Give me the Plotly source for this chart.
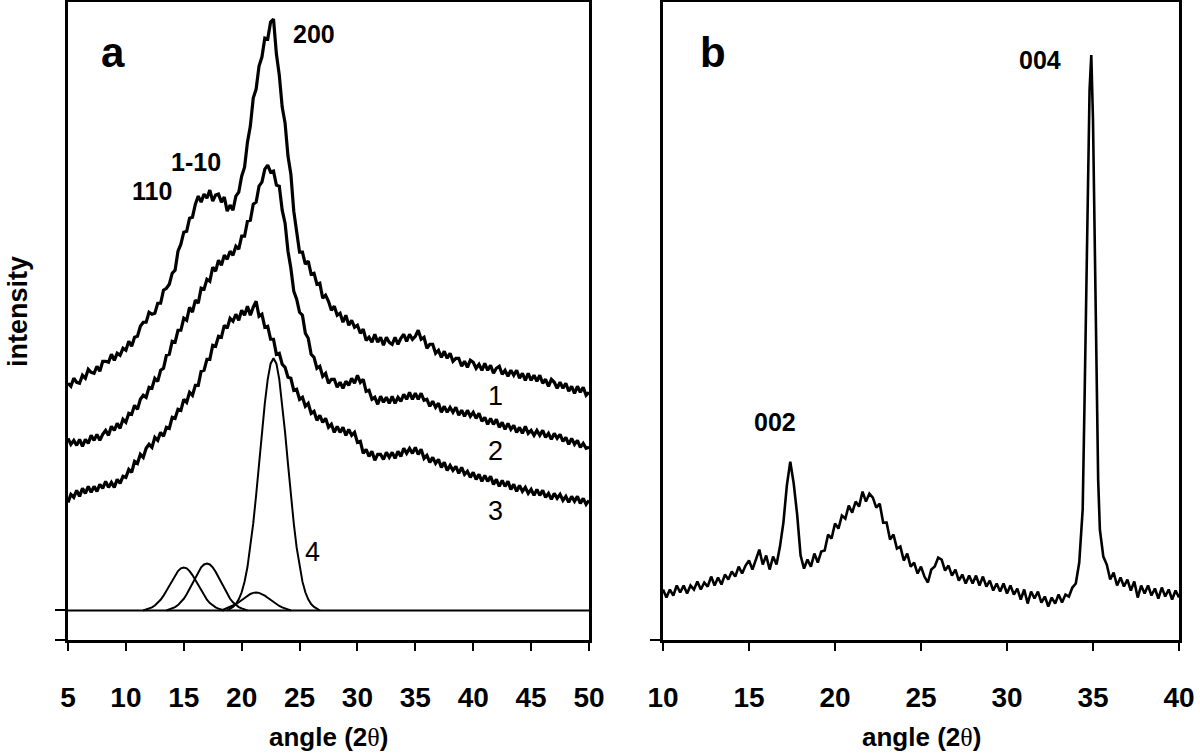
import numpy as np
import plotly.graph_objects as go

# ---------------- panel a : XRD patterns 1-3 (intensity in arbitrary units) ----------------
angle_a = np.round(np.arange(5, 50.001, 0.25), 2)

pattern_1 = [
    256, 253, 261, 257, 256, 264, 261, 270, 267, 266, 273, 268, 278, 278, 277, 285, 279, 286, 284, 291,
    289, 298, 293, 302, 303, 313, 317, 317, 327, 325, 326, 336, 336, 349, 351, 355, 366, 369, 388, 395,
    407, 408, 421, 422, 435, 443, 437, 445, 441, 449, 438, 444, 445, 437, 442, 428, 434, 429, 443, 447,
    463, 472, 497, 513, 541, 550, 573, 582, 601, 600, 617, 620, 585, 564, 532, 516, 483, 465, 428, 408,
    387, 387, 375, 378, 365, 366, 355, 356, 341, 344, 338, 329, 333, 324, 326, 317, 324, 314, 319, 312,
    314, 306, 310, 299, 302, 297, 305, 297, 302, 294, 302, 297, 295, 302, 295, 301, 305, 298, 305, 300,
    303, 309, 300, 302, 291, 295, 295, 286, 289, 282, 288, 281, 286, 278, 281, 281, 273, 278, 272, 279,
    277, 271, 275, 269, 276, 269, 274, 266, 271, 273, 265, 269, 263, 269, 264, 269, 261, 266, 259, 266,
    259, 264, 258, 264, 256, 260, 253, 260, 257, 251, 257, 251, 256, 248, 253, 246, 253, 247, 252, 244, 247,
]

pattern_2 = [
    201, 195, 199, 194, 200, 193, 200, 196, 204, 199, 205, 199, 205, 209, 204, 213, 209, 216, 211, 220,
    217, 226, 225, 234, 230, 240, 244, 242, 252, 251, 261, 258, 269, 271, 284, 285, 298, 297, 309, 309,
    321, 319, 332, 327, 339, 336, 351, 350, 360, 358, 372, 368, 379, 374, 384, 380, 388, 384, 393, 390,
    403, 403, 418, 419, 435, 437, 453, 457, 470, 474, 467, 468, 454, 453, 429, 416, 388, 371, 348, 340,
    327, 324, 306, 301, 285, 282, 271, 273, 263, 266, 256, 260, 260, 252, 257, 251, 258, 254, 261, 256,
    264, 257, 260, 248, 249, 240, 242, 235, 243, 237, 242, 236, 243, 236, 242, 238, 245, 240, 247, 240,
    246, 240, 246, 239, 240, 233, 238, 232, 236, 227, 233, 227, 232, 227, 232, 224, 229, 223, 229, 223,
    227, 221, 226, 218, 222, 215, 221, 215, 220, 212, 217, 210, 216, 210, 214, 207, 212, 206, 213, 206,
    209, 204, 209, 204, 209, 202, 206, 200, 206, 201, 205, 198, 202, 195, 201, 195, 199, 192, 196, 191, 192,
]

pattern_3 = [
    137, 145, 142, 149, 143, 151, 146, 153, 147, 153, 148, 155, 151, 158, 152, 157, 152, 160, 156, 163,
    162, 170, 167, 178, 176, 185, 182, 191, 195, 192, 202, 199, 207, 203, 212, 211, 222, 221, 230, 229,
    240, 237, 247, 244, 254, 254, 268, 269, 280, 280, 294, 293, 303, 302, 314, 311, 321, 318, 325, 319,
    329, 324, 333, 324, 332, 338, 323, 325, 312, 313, 300, 300, 285, 286, 275, 272, 262, 261, 249, 250,
    240, 242, 233, 236, 226, 228, 219, 224, 217, 221, 212, 215, 207, 213, 207, 212, 204, 210, 204, 207,
    197, 198, 186, 190, 183, 188, 179, 185, 185, 180, 187, 182, 187, 181, 188, 183, 191, 186, 191, 186,
    192, 185, 190, 181, 184, 177, 182, 176, 180, 172, 177, 169, 174, 169, 173, 166, 172, 165, 168, 162,
    167, 160, 165, 158, 164, 158, 163, 155, 160, 153, 159, 153, 158, 150, 155, 148, 154, 148, 152, 146,
    150, 144, 150, 144, 149, 142, 146, 140, 146, 141, 145, 139, 143, 137, 143, 138, 143, 136, 141, 135, 139,
]

# curve 4 : fitted component peaks sitting on the baseline
baseline_a = 29
fit_110_x = np.round(np.arange(11.5, 18.501, 0.25), 2)
fit_110_y = [29, 30.1, 30.9, 32.1, 33.9, 36.4, 39.7, 43.8, 48.7, 54.0, 59.4, 64.4, 68.4, 71.1, 72,
             71.1, 68.4, 64.4, 59.4, 54.0, 48.7, 43.8, 39.7, 36.4, 33.9, 32.1, 30.9, 30.1, 29]
fit_1m10_x = np.round(np.arange(13.5, 20.501, 0.25), 2)
fit_1m10_y = [29, 30.2, 31.1, 32.4, 34.4, 37.1, 40.7, 45.2, 50.5, 56.3, 62.2, 67.7, 72.1, 75.0, 76,
              75.0, 72.1, 67.7, 62.2, 56.3, 50.5, 45.2, 40.7, 37.1, 34.4, 32.4, 31.1, 30.2, 29]
fit_amorph_x = np.round(np.arange(18.25, 24.251, 0.25), 2)
fit_amorph_y = [29, 30.3, 31.1, 32.1, 33.5, 35.2, 37.2, 39.5, 41.7, 43.8, 45.5, 46.6, 47,
                46.6, 45.5, 43.8, 41.7, 39.5, 37.2, 35.2, 33.5, 32.1, 31.1, 30.3, 29]
fit_200_x = np.round(np.arange(18.75, 26.751, 0.25), 2)
fit_200_y = [29, 30.9, 32.6, 35.4, 40.1, 47.2, 57.8, 72.4, 91.8, 116, 144.4, 175.5, 207, 236, 260, 275.6, 281,
             275.6, 260, 236, 207, 175.5, 144.4, 116, 91.8, 72.4, 57.8, 47.2, 40.1, 35.4, 32.6, 30.9, 29]

# ---------------- panel b ----------------
angle_b = np.concatenate([
    np.round(np.arange(10, 34.401, 0.2), 2),
    np.round(np.arange(34.5, 35.401, 0.1), 2),
    np.round(np.arange(35.6, 40.001, 0.2), 2),
])
pattern_b = [
    50, 42, 50, 44, 54, 47, 54, 46, 54, 50, 58, 50, 57, 53, 63, 54, 62, 55, 65, 60,
    68, 63, 73, 66, 74, 79, 70, 80, 90, 75, 84, 70, 83, 75, 93, 117, 154, 178, 156, 125,
    84, 71, 80, 73, 86, 77, 88, 89, 105, 101, 116, 111, 124, 121, 134, 127, 138, 133, 148, 138,
    146, 142, 132, 136, 117, 117, 100, 105, 91, 93, 79, 86, 73, 77, 66, 73, 63, 57, 70, 73,
    82, 80, 69, 74, 64, 70, 59, 65, 56, 64, 56, 64, 54, 63, 53, 59, 49, 56, 48, 56,
    46, 54, 45, 51, 40, 50, 36, 48, 41, 48, 37, 43, 33, 42, 36, 45, 37, 45, 43, 52,
    56, 77, 130,
    230, 350, 460, 550, 585, 520, 400, 260, 160, 110,
    83, 75, 60, 67, 54, 62, 53, 60, 49, 58, 42, 54, 46, 54, 44, 51, 41, 52, 43, 50, 40, 49, 42,
]

FONT = "Liberation Sans, Arial, sans-serif"
W, H = 1200, 755

fig = go.Figure()

for ys in [pattern_1, pattern_2, pattern_3]:
    fig.add_trace(go.Scatter(x=angle_a, y=ys, mode="lines",
                             line=dict(color="black", width=3.2),
                             xaxis="x", yaxis="y", showlegend=False))
for fx, fy in [(fit_110_x, fit_110_y), (fit_1m10_x, fit_1m10_y),
               (fit_amorph_x, fit_amorph_y), (fit_200_x, fit_200_y)]:
    fig.add_trace(go.Scatter(x=fx, y=fy, mode="lines",
                             line=dict(color="black", width=2),
                             xaxis="x", yaxis="y", showlegend=False))
fig.add_trace(go.Scatter(x=angle_b, y=pattern_b, mode="lines",
                         line=dict(color="black", width=2.6),
                         xaxis="x2", yaxis="y2", showlegend=False))

xax = dict(showgrid=False, zeroline=False, showline=True, mirror=True, automargin=False,
           linecolor="black", linewidth=2.5, ticks="outside", ticklen=9,
           tickwidth=2, tickcolor="black", ticklabelstandoff=22,
           tickfont=dict(family=FONT, size=28, color="black", weight="bold"))
yax = dict(showgrid=False, zeroline=False, showline=True, mirror=True, automargin=False,
           linecolor="black", linewidth=2.5, ticks="outside", ticklen=10,
           tickwidth=2, tickcolor="black", showticklabels=False)

y_bot = 1 - 639.5 / H
y_top = 1 - 2 / H

fig.update_layout(
    template="none",
    width=W, height=H,
    margin=dict(l=0, r=0, t=0, b=0, pad=0),
    paper_bgcolor="white", plot_bgcolor="white",
    xaxis=dict(xax, domain=[68 / W, 589 / W], range=[5, 50],
               tickvals=[5, 10, 15, 20, 25, 30, 35, 40, 45, 50], anchor="y"),
    yaxis=dict(yax, domain=[y_bot, y_top], range=[0, 637],
               tickvals=[0, baseline_a], anchor="x"),
    xaxis2=dict(xax, domain=[663 / W, 1179 / W], range=[10, 40],
                tickvals=[10, 15, 20, 25, 30, 35, 40], anchor="y2"),
    yaxis2=dict(yax, domain=[y_bot, y_top], range=[0, 638],
                tickvals=[0], anchor="x2"),
    shapes=[dict(type="line", xref="x", yref="y", x0=5, x1=50,
                 y0=baseline_a, y1=baseline_a,
                 line=dict(color="black", width=2))],
)


def note(text, px, py, size, bold=True, angle=0):
    fig.add_annotation(text=text, x=px / W, y=1 - py / H, xref="paper", yref="paper",
                       showarrow=False, xanchor="center", yanchor="middle", textangle=angle,
                       font=dict(family=FONT, size=size, color="black",
                                 weight="bold" if bold else "normal"))


theta = "angle (2<span style='font-family:Liberation Serif;font-weight:normal'>θ</span>)"
note(theta, 328, 737, 26)
note(theta, 921, 737, 26)
note("intensity", 18, 312, 27, angle=-90)
note("a", 113, 52, 42)
note("b", 713, 52, 42)
note("200", 314, 34, 25)
note("1-10", 196, 162, 25)
note("110", 152, 191, 25)
note("004", 1040, 60, 25)
note("002", 775, 422, 25)
note("1", 495, 396, 27, bold=False)
note("2", 495, 451, 27, bold=False)
note("3", 495, 511, 27, bold=False)
note("4", 312, 552, 27, bold=False)

# drop the default page margin so the figure sits at the window's top-left corner
fig.write_html("out.html", config={"displayModeBar": False},
               post_script="document.body.style.margin='0';")
